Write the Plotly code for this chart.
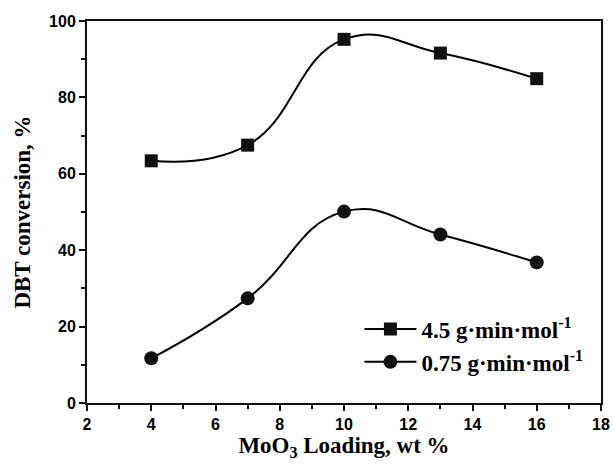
import plotly.graph_objects as go

loading = [4, 7, 10, 13, 16]
conv_45 = [63.4, 67.5, 95.2, 91.6, 84.9]
conv_075 = [11.7, 27.4, 50.1, 44.1, 36.8]
names = ["<b>4.5 g·min·mol<sup>-1</sup></b>", "<b>0.75 g·min·mol<sup>-1</sup></b>"]
x_ticks = [2, 4, 6, 8, 10, 12, 14, 16, 18]
y_ticks = [0, 20, 40, 60, 80, 100]

fig = go.Figure()
fig.add_trace(go.Scatter(x=loading, y=conv_45, name=names[0], mode="lines+markers",
                         line=dict(color="#000000", width=2, shape="spline", smoothing=1.3),
                         marker=dict(symbol="square", size=13, color="#111111")))
fig.add_trace(go.Scatter(x=loading, y=conv_075, name=names[1], mode="lines+markers",
                         line=dict(color="#000000", width=2, shape="spline", smoothing=1.3),
                         marker=dict(symbol="circle", size=14, color="#111111")))

axis_common = dict(showgrid=False, zeroline=False, showline=True, linecolor="#111111",
                   linewidth=2, mirror=True, ticks="outside", ticklen=6, tickwidth=2,
                   tickcolor="#111111",
                   tickfont=dict(family="Liberation Sans", size=16, color="#000000"))

fig.update_xaxes(range=[2, 18], tickvals=x_ticks, ticktext=[f"<b>{v}</b>" for v in x_ticks],
                 minor=dict(dtick=1, tick0=2, ticks="outside", ticklen=4, tickwidth=2, tickcolor="#111111"),
                 title=dict(text="<b>MoO<sub>3</sub> Loading, wt %</b>", standoff=5,
                            font=dict(family="Liberation Serif", size=23, color="#000000")),
                 automargin=False,
                 **axis_common)
fig.update_yaxes(range=[0, 100], tickvals=y_ticks, ticktext=[f"<b>{v}</b>" for v in y_ticks],
                 minor=dict(dtick=10, tick0=0, ticks="outside", ticklen=4, tickwidth=2, tickcolor="#111111"),
                 title=dict(text="<b>DBT conversion, %</b>", standoff=12,
                            font=dict(family="Liberation Serif", size=23, color="#000000")),
                 **axis_common)

fig.update_layout(
    width=614, height=464,
    margin=dict(l=87, r=11, t=21, b=61),
    plot_bgcolor="white", paper_bgcolor="white",
    legend=dict(x=0.53, y=0.25, xanchor="left", yanchor="top",
                bgcolor="rgba(0,0,0,0)", itemwidth=52, tracegroupgap=0,
                font=dict(family="Liberation Serif", size=23, color="#000000")),
)

fig.write_html("out.html")
